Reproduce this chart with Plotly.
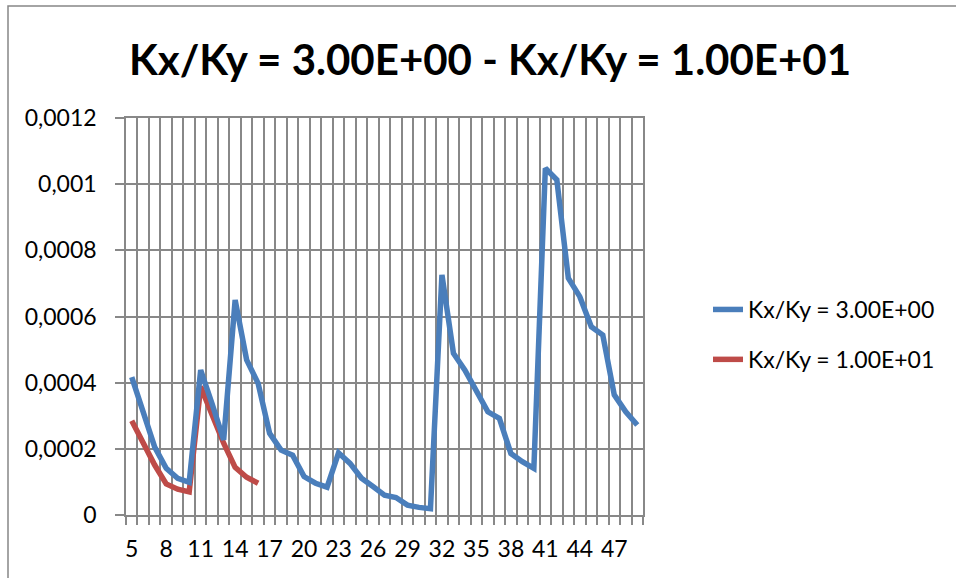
import plotly.graph_objects as go

categories = [5, 6, 7, 8, 9, 10, 11, 12, 13, 14, 15, 16, 17, 18, 19, 20, 21, 22, 23, 24, 25, 26, 27,
              28, 29, 30, 31, 32, 33, 34, 35, 36, 37, 38, 39, 40, 41, 42, 43, 44, 45, 46, 47, 48, 49]

series_kx3 = [0.000417, 0.000310, 0.000205, 0.000141, 0.000111, 0.000099, 0.000438, 0.000335,
              0.000227, 0.000650, 0.000469, 0.000398, 0.000247, 0.000196, 0.000181, 0.000116,
              0.000096, 0.000084, 0.000188, 0.000156, 0.000111, 0.000086, 0.000060, 0.000053,
              0.000030, 0.000023, 0.000019, 0.000726, 0.000489, 0.000438, 0.000378, 0.000312,
              0.000292, 0.000186, 0.000161, 0.000141, 0.001048, 0.001013, 0.000716, 0.000660,
              0.000569, 0.000544, 0.000363, 0.000312, 0.000272]

categories_kx10 = [5, 6, 7, 8, 9, 10, 11, 12, 13, 14, 15, 16]
series_kx10 = [0.000285, 0.000217, 0.000151, 0.000094, 0.000078, 0.000070, 0.000388, 0.000302,
               0.000217, 0.000144, 0.000114, 0.000096]

x_tick_vals = [5, 8, 11, 14, 17, 20, 23, 26, 29, 32, 35, 38, 41, 44, 47]
y_tick_vals = [0, 0.0002, 0.0004, 0.0006, 0.0008, 0.001, 0.0012]
y_tick_text = ["0", "0,0002", "0,0004", "0,0006", "0,0008", "0,001", "0,0012"]

name_a = "Kx/Ky = 3.00E+00"
name_b = "Kx/Ky = 1.00E+01"
title_text = "Kx/Ky = 3.00E+00 - Kx/Ky = 1.00E+01"

GRID = "#888888"
FONT = "Lato"
FS = 23

fig = go.Figure()
# red drawn first so the blue series sits on top (as in the reference)
fig.add_trace(go.Scatter(x=categories_kx10, y=series_kx10, mode="lines", name=name_b,
                         legendgroup="b", legendrank=2,
                         line=dict(color="#BE4B48", width=5.5)))
fig.add_trace(go.Scatter(x=categories, y=series_kx3, mode="lines", name=name_a,
                         legendgroup="a", legendrank=1,
                         line=dict(color="#4A7EBB", width=5.5)))

W, H = 956, 578
L, R, T, B = 126, 313, 118, 63
pw, ph = W - L - R, H - T - B

# outer chart border (top and left edges visible)
fig.add_shape(type="rect", xref="paper", yref="paper",
              x0=(8 - L) / pw, x1=(W + 10 - L) / pw,
              y0=-(B + 10) / ph, y1=(H - 6 - B) / ph,
              line=dict(color="#868686", width=1.5), fillcolor="rgba(0,0,0,0)", layer="below")

fig.update_layout(
    width=W, height=H,
    margin=dict(l=L, r=R, t=T, b=B),
    paper_bgcolor="white", plot_bgcolor="white",
    font=dict(family=FONT, size=FS, color="black"),
    title=dict(text="<b>" + title_text + "</b>", x=490 / W, xanchor="center",
               y=1 - 60 / H, yanchor="middle",
               font=dict(family=FONT, size=42, color="black")),
    showlegend=True,
    legend=dict(x=(708 - L) / pw, xanchor="left", y=(515 - 334.5) / ph, yanchor="middle",
                font=dict(family=FONT, size=FS, color="black"), traceorder="grouped",
                tracegroupgap=17, bgcolor="rgba(0,0,0,0)"),
    xaxis=dict(range=[4.5, 49.5], tickmode="array", tickvals=x_tick_vals,
               ticktext=[str(v) for v in x_tick_vals],
               showgrid=False, zeroline=False, ticks="",
               showline=True, linecolor=GRID, linewidth=1.5, mirror=True,
               ticklabelstandoff=13,
               minor=dict(tickmode="linear", tick0=4.5, dtick=1, showgrid=True,
                          gridcolor=GRID, gridwidth=1.5, ticks="outside", ticklen=8,
                          tickcolor=GRID, tickwidth=1.5),
               fixedrange=True),
    yaxis=dict(range=[0, 0.0012], tickmode="array", tickvals=y_tick_vals, ticktext=y_tick_text,
               showgrid=True, gridcolor=GRID, gridwidth=1.5, zeroline=False,
               ticks="outside", ticklen=9, tickcolor=GRID, tickwidth=1.5,
               showline=True, linecolor=GRID, linewidth=1.5, mirror=True,
               ticklabelstandoff=14, fixedrange=True),
)

fig.write_html("out.html", config={"displayModeBar": False},
               post_script="document.body.style.margin='0';")
